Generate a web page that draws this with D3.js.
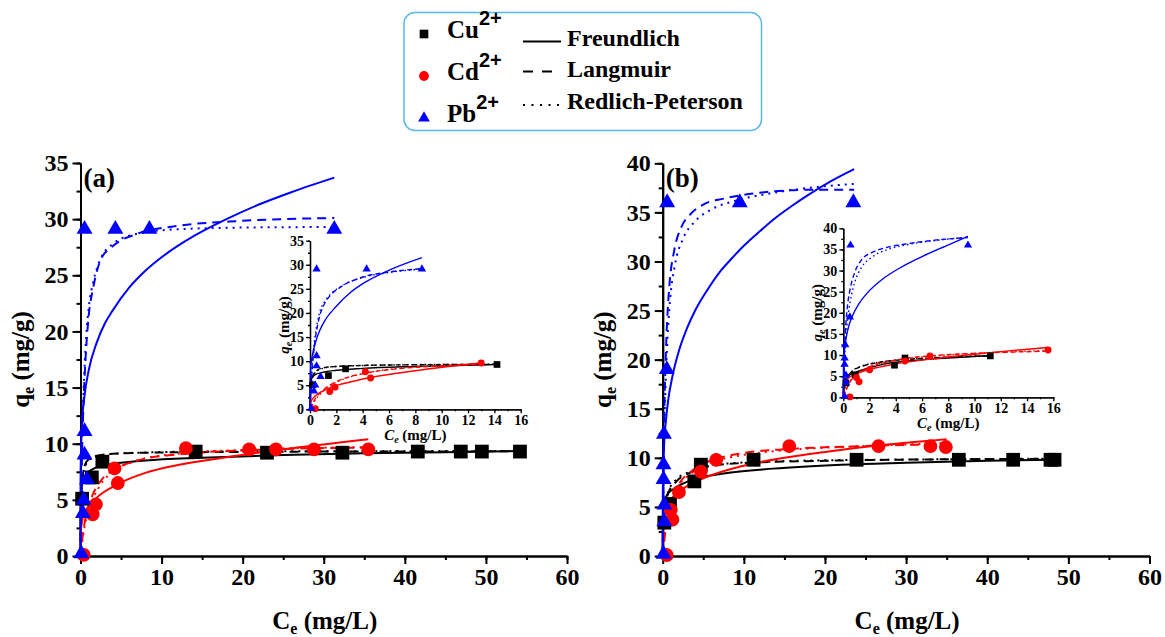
<!DOCTYPE html>
<html lang="en">
<head>
<meta charset="UTF-8"/>
<title>Adsorption isotherms of Cu, Cd and Pb</title>
<script src="https://d3js.org/d3.v7.min.js"></script>
<style>
  body { margin: 0; background: #fff; }
  svg { display: block; }
  svg text { font-family: "Liberation Serif", "Times New Roman", serif; font-weight: bold; }
</style>
</head>
<body>
<svg id="chart"></svg>
<script>
// measured points [Ce, qe], panel (a)
const cuA = [[0.2,5.1],[1.4,7.0],[2.7,8.4],[14.2,9.3],[23.0,9.2],[32.3,9.2],[41.6,9.3],[46.9,9.3],[49.5,9.3],[54.2,9.3]];
const cdA = [[0.4,0.1],[1.5,3.7],[1.9,4.6],[4.2,7.8],[4.6,6.5],[13.0,9.6],[20.8,9.5],[24.1,9.5],[28.8,9.5],[35.5,9.5]];
const pbA = [[0.1,0.2],[0.3,3.8],[0.4,5.0],[0.8,6.8],[0.5,9.0],[0.5,11.1],[0.5,29.1],[4.3,29.1],[8.5,29.1],[31.3,29.1]];

// measured points, panel (b)
const cuB = [[0.2,3.4],[0.9,5.3],[3.9,7.6],[4.7,9.3],[11.2,9.8],[23.9,9.8],[36.5,9.8],[43.2,9.8],[47.8,9.8],[48.3,9.8]];
const cdB = [[0.5,0.1],[1.0,4.7],[1.2,3.7],[2.0,6.5],[4.7,8.6],[6.6,9.8],[15.6,11.2],[26.6,11.2],[33.0,11.2],[34.9,11.1]];
const pbB = [[0.1,0.2],[0.2,3.5],[0.2,5.2],[0.1,7.8],[0.1,9.3],[0.15,12.4],[0.5,19.0],[0.55,36.0],[9.5,36.0],[23.5,36.0]];

// fitted curves, panel (a) main
const cuA_F  = [[0,0],[0.02,4.5],[0.1,6.0],[0.3,6.8],[0.6,7.2],[1,7.5],[2,7.9],[4,8.2],[8,8.5],[15,8.75],[25,9.0],[35,9.15],[45,9.25],[54.2,9.35]];
const cuA_L  = [[0,0],[0.05,3.5],[0.15,6.0],[0.3,7.3],[0.6,8.2],[1,8.6],[2,8.9],[4,9.1],[8,9.2],[15,9.25],[30,9.3],[54.2,9.32]];
const cuA_RP = [[0,0],[0.05,3.2],[0.15,5.8],[0.3,7.1],[0.6,8.0],[1,8.5],[2,8.9],[4,9.1],[8,9.22],[15,9.3],[30,9.33],[54.2,9.36]];
const cdA_F  = [[0,0],[0.005,1.25],[0.05,2.2],[0.2,3.1],[0.5,3.8],[1,4.45],[2,5.2],[4.6,6.4],[8,7.4],[12,8.1],[18,8.8],[25,9.5],[35.5,10.4]];
const cdA_L  = [[0,0],[0.2,1.4],[0.5,2.9],[1,4.4],[1.5,5.45],[2.5,6.7],[4.2,7.7],[7,8.5],[12,9.05],[20,9.4],[35.5,9.66]];
const cdA_RP = [[0,0],[0.2,1.2],[0.5,2.6],[1,4.0],[1.5,5.0],[2.5,6.4],[4.2,7.6],[7,8.5],[12,9.1],[20,9.45],[35.5,9.7]];
const pbA_F  = [[0,0],[0.003,5.2],[0.01,6.8],[0.05,8.9],[0.2,11.9],[0.5,14.3],[1,16.5],[2,19.0],[3,20.7],[4,21.9],[6,23.9],[8,25.4],[10,26.6],[14,28.5],[18,30.0],[22,31.3],[26,32.4],[31.3,33.7]];
const pbA_L  = [[0,0],[0.05,3.1],[0.1,5.7],[0.2,9.4],[0.4,14.1],[0.7,18.5],[1,21.3],[1.6,24],[2.5,26.4],[4,27.6],[7,28.7],[12,29.4],[20,29.85],[31.3,30.1]];
const pbA_RP = [[0,0],[0.05,3.5],[0.1,6.3],[0.2,10.2],[0.4,15],[0.7,19.5],[1,22],[1.6,24.5],[2.5,26.5],[4,27.8],[7,28.7],[12,29.1],[20,29.25],[31.3,29.3]];

// panel (a) inset fits (low-concentration range)
const cuAi_F  = [[0,0],[0.01,4.2],[0.05,5.6],[0.15,6.5],[0.4,7.2],[1,7.7],[2,8.1],[4,8.5],[8,8.9],[14.2,9.3]];
const cuAi_L  = [[0,0],[0.05,3.8],[0.15,6.3],[0.3,7.4],[0.6,8.2],[1,8.6],[2,8.9],[4,9.1],[8,9.25],[14.2,9.32]];
const cuAi_RP = [[0,0],[0.05,3.5],[0.15,6.1],[0.3,7.2],[0.6,8.1],[1,8.5],[2,8.9],[4,9.1],[8,9.28],[14.2,9.35]];
const cdAi_F  = [[0,0],[0.02,0.9],[0.1,1.7],[0.3,2.5],[0.6,3.2],[1,3.8],[1.6,4.6],[2.5,5.3],[4.6,6.6],[8,8.0],[12.9,9.6]];
const cdAi_L  = [[0,0],[0.2,1.2],[0.5,2.6],[1,4.0],[1.5,5.0],[2.5,6.3],[4.2,7.5],[7,8.5],[10,9.0],[12.9,9.3]];
const cdAi_RP = [[0,0],[0.2,1.0],[0.5,2.3],[1,3.7],[1.5,4.8],[2.5,6.2],[4.2,7.5],[7,8.6],[10,9.1],[12.9,9.4]];
const pbAi_F  = [[0,0],[0.01,5.3],[0.05,8.5],[0.15,10.8],[0.3,12.7],[0.6,15.4],[1,17.8],[2,21.4],[3,24.1],[4.2,26.4],[6.1,29],[8.5,31.5]];
const pbAi_L  = [[0,0],[0.05,3],[0.1,5.5],[0.2,9.5],[0.4,14.5],[0.7,19],[1.1,21.9],[1.6,23.8],[2.4,25.5],[4.2,27.6],[6,28.5],[8.5,29.2]];
const pbAi_RP = [[0,0],[0.05,3.5],[0.1,6.3],[0.2,10.4],[0.4,15.5],[0.7,19.8],[1.1,22.3],[1.6,24],[2.4,25.6],[4.2,27.5],[6,28.4],[8.5,29.1]];

// panel (b) main fits
const cuB_F  = [[0,0],[0.05,3.5],[0.2,5.3],[0.5,6.2],[1.3,6.8],[3.4,7.7],[7.5,8.4],[13.6,8.9],[22,9.3],[30,9.5],[40,9.7],[48.3,9.8]];
const cuB_L  = [[0,0],[0.1,2.0],[0.3,4.5],[0.7,6.4],[1.7,7.6],[3.4,8.5],[5.4,9.1],[9.5,9.45],[20,9.7],[35,9.85],[48.3,9.9]];
const cuB_RP = [[0,0],[0.1,2.2],[0.3,4.8],[0.7,6.6],[1.7,7.8],[3.4,8.6],[5.4,9.15],[9.5,9.5],[20,9.75],[35,9.85],[48.3,9.92]];
const cdB_F  = [[0,0],[0.01,2.2],[0.05,3.0],[0.3,4.5],[1,5.7],[2.5,6.85],[5,7.9],[10,9.2],[15,10.0],[20,10.6],[27,11.3],[35,11.9]];
const cdB_L  = [[0,0],[0.2,1.6],[0.5,3.6],[1,5.2],[2,7.3],[3.5,8.6],[5,9.4],[6.6,9.9],[10,10.5],[15.6,10.9],[25,11.2],[35,11.4]];
const cdB_RP = [[0,0],[0.2,1.8],[0.5,3.8],[1,5.4],[2,7.2],[3.5,8.4],[5,9.2],[6.6,9.7],[10,10.3],[15.6,10.8],[25,11.2],[35,11.5]];
const pbB_F  = [[0,0],[0.003,3.9],[0.01,5.5],[0.05,8.2],[0.15,10.9],[0.4,13.8],[0.7,16.0],[1.2,18.3],[2,20.9],[3,23.2],[4,25.0],[5.5,27.1],[7,28.9],[8.5,30.3],[10,31.6],[12,33.1],[14,34.5],[16,35.7],[18,36.8],[20.8,38.2],[23.6,39.4]];
const pbB_L  = [[0,0],[0.02,2.3],[0.05,5.3],[0.1,9.2],[0.2,14.5],[0.35,19.6],[0.55,24.0],[0.82,27.5],[1.44,31.2],[2.3,33.5],[3.4,34.8],[5,35.8],[7.5,36.4],[12,37.0],[18,37.3],[23.6,37.3]];
const pbB_RP = [[0,0],[0.05,4.5],[0.1,7.8],[0.2,12.5],[0.35,17.2],[0.55,21.5],[0.85,25.5],[1.5,29.6],[2.5,32.3],[4,34.1],[6,35.3],[9,36.2],[13,36.9],[18,37.5],[23.6,37.9]];

// panel (b) inset fits
const cuBi_F  = [[0,0],[0.02,2.5],[0.1,3.8],[0.3,4.8],[0.6,5.5],[1,6.0],[2,7.0],[3,7.8],[5,8.6],[8,9.3],[11.2,9.9]];
const cuBi_L  = [[0,0],[0.1,2.2],[0.3,4.5],[0.7,6.2],[1.5,7.4],[3,8.4],[5,9.0],[8,9.5],[11.2,9.8]];
const cuBi_RP = [[0,0],[0.1,2.4],[0.3,4.7],[0.7,6.3],[1.5,7.5],[3,8.4],[5,9.0],[8,9.5],[11.2,9.85]];
const cdBi_F  = [[0,0],[0.01,2.0],[0.05,2.8],[0.3,4.3],[1,5.6],[2,6.6],[4,7.9],[6.5,9.0],[10,10.2],[13,11.1],[15.6,11.8]];
const cdBi_L  = [[0,0],[0.2,1.6],[0.5,3.6],[1,5.2],[2,7.2],[3.5,8.5],[5,9.3],[6.6,9.8],[10,10.4],[15.6,10.9]];
const cdBi_RP = [[0,0],[0.2,1.8],[0.5,3.8],[1,5.4],[2,7.2],[3.5,8.4],[5,9.2],[6.6,9.7],[10,10.4],[15.6,11.1]];
const pbBi_F  = [[0,0],[0.01,6.4],[0.05,9.8],[0.15,12.7],[0.33,15.8],[0.7,19.3],[1.2,22.2],[1.8,24.6],[3,28],[4.3,30.6],[6,33.3],[7.8,35.8],[9.5,38.1]];
const pbBi_L  = [[0,0],[0.02,3],[0.05,6.8],[0.1,11.5],[0.2,17.5],[0.35,22.5],[0.5,25.3],[0.9,29.8],[1.4,32.6],[2.2,34.3],[3.5,35.6],[5,36.4],[7,37.2],[9.5,37.8]];
const pbBi_RP = [[0,0],[0.05,5],[0.1,8.8],[0.2,14],[0.35,19],[0.55,23],[0.9,27.5],[1.4,30.8],[2.2,33.2],[3.5,35.1],[5,36.2],[7,37.1],[9.5,37.9]];

const ions = ['Cu', 'Cd', 'Pb'];
const ionColors = ['#000000', '#ff0000', '#0000ff'];
const models = ['Freundlich', 'Langmuir', 'Redlich-Peterson'];

const serif = '"Liberation Serif", "Times New Roman", serif';

const svg = d3.select('#chart')
  .attr('width', 1165).attr('height', 637)
  .attr('font-family', serif).attr('font-weight', 'bold');

const sym = {
  Cu: d3.symbolSquare,
  Cd: d3.symbolCircle,
  Pb: d3.symbolTriangle
};

function drawAxes(g, x, y, o) {
  const xAxisMinor = d3.axisBottom(x).tickValues(d3.range(0, o.xMax + 1e-6, o.xMinor))
    .tickSize(o.minorLen).tickFormat('').tickSizeOuter(0);
  const yAxisMinor = d3.axisLeft(y).tickValues(d3.range(0, o.yMax + 1e-6, o.yMinor))
    .tickSize(o.minorLen).tickFormat('').tickSizeOuter(0);
  const xAxis = d3.axisBottom(x).tickValues(d3.range(0, o.xMax + 1e-6, o.xStep))
    .tickSize(o.majorLen).tickPadding(o.pad).tickSizeOuter(0);
  const yAxis = d3.axisLeft(y).tickValues(d3.range(0, o.yMax + 1e-6, o.yStep))
    .tickSize(o.majorLen).tickPadding(o.pad).tickSizeOuter(0);

  const style = sel => {
    sel.attr('font-family', serif).attr('font-weight', 'bold').attr('font-size', o.font);
    sel.selectAll('line').attr('stroke', '#000').attr('stroke-width', o.sw);
    sel.selectAll('.domain').attr('stroke', '#000').attr('stroke-width', o.sw);
    sel.selectAll('text').attr('fill', '#000');
  };

  g.append('g').attr('transform', `translate(0,${y(0)})`).call(xAxisMinor).call(style);
  g.append('g').attr('transform', `translate(${x(0)},0)`).call(yAxisMinor).call(style);
  g.append('g').attr('transform', `translate(0,${y(0)})`).call(xAxis).call(style);
  g.append('g').attr('transform', `translate(${x(0)},0)`).call(yAxis).call(style);
}

function drawSeries(g, x, y, pts, fits, o) {
  const line = d3.line().x(d => x(d[0])).y(d => y(d[1])).curve(d3.curveMonotoneX);
  const dashes = [null, o.dash, o.dot];
  fits.forEach((set, i) => {
    set.forEach((curve, m) => {
      g.append('path')
        .datum(curve)
        .attr('d', line)
        .attr('fill', 'none')
        .attr('stroke', ionColors[i])
        .attr('stroke-width', o.lw)
        .attr('stroke-dasharray', dashes[m]);
    });
  });
  pts.forEach((set, i) => {
    const name = ions[i];
    g.selectAll(null)
      .data(set.filter(d => d[0] <= o.xMax))
      .enter()
      .append('path')
      .attr('transform', d => `translate(${x(d[0])},${y(d[1])})`)
      .attr('d', d3.symbol().type(sym[name]).size(o.size[name]))
      .attr('fill', ionColors[i]);
  });
}

const mainOpts = {
  xMax: 60, xStep: 10, xMinor: 5, yStep: 5, yMinor: 2.5,
  majorLen: 8, minorLen: 4, pad: 4, font: 24, sw: 2,
  lw: 2, dash: '9,6', dot: '2,5',
  size: { Cu: 190, Cd: 150, Pb: 110 }
};
const insetOpts = {
  xMax: 16, xStep: 2, xMinor: 1, yStep: 5, yMinor: 2.5,
  majorLen: 4, minorLen: 2, pad: 2, font: 14, sw: 1.3,
  lw: 1.4, dash: '5,3', dot: '1.5,3',
  size: { Cu: 45, Cd: 38, Pb: 30 }
};

function panel(p) {
  const g = svg.append('g');
  const x = d3.scaleLinear().domain([0, 60]).range(p.xr);
  const y = d3.scaleLinear().domain([0, p.yMax]).range(p.yr);
  drawAxes(g, x, y, Object.assign({}, mainOpts, { yMax: p.yMax }));
  drawSeries(g, x, y, p.pts, p.fits, mainOpts);

  // axis titles
  const yt = g.append('text')
    .attr('transform', `translate(${p.xr[0] - 52},${(p.yr[0] + p.yr[1]) / 2}) rotate(-90)`)
    .attr('text-anchor', 'middle').attr('font-size', 25);
  yt.append('tspan').text('q');
  yt.append('tspan').text('e').attr('font-size', 16).attr('dy', 5);
  yt.append('tspan').text(' (mg/g)').attr('dy', -5);

  const xt = g.append('text')
    .attr('x', (p.xr[0] + p.xr[1]) / 2 + 1).attr('y', 629)
    .attr('text-anchor', 'middle').attr('font-size', 25);
  xt.append('tspan').text('C');
  xt.append('tspan').text('e').attr('font-size', 16).attr('dy', 5);
  xt.append('tspan').text(' (mg/L)').attr('dy', -5);

  g.append('text').attr('x', p.xr[0] + 3).attr('y', 187)
    .attr('font-size', 27).text(p.tag);

  // inset
  const gi = svg.append('g');
  const xi = d3.scaleLinear().domain([0, 16]).range(p.ixr);
  const yi = d3.scaleLinear().domain([0, p.yMax]).range(p.iyr);
  drawAxes(gi, xi, yi, Object.assign({}, insetOpts, { yMax: p.yMax }));
  drawSeries(gi, xi, yi, p.pts, p.ifits, insetOpts);

  const iyt = gi.append('text')
    .attr('transform', `translate(${p.ixr[0] - 21},${(p.iyr[0] + p.iyr[1]) / 2}) rotate(-90)`)
    .attr('text-anchor', 'middle').attr('font-size', 15);
  iyt.append('tspan').text('q').attr('font-style', 'italic');
  iyt.append('tspan').text('e').attr('font-style', 'italic').attr('font-size', 10).attr('dy', 3);
  iyt.append('tspan').text(' (mg/g)').attr('dy', -3);

  const ixt = gi.append('text')
    .attr('x', (p.ixr[0] + p.ixr[1]) / 2).attr('y', p.iyr[0] + 31)
    .attr('text-anchor', 'middle').attr('font-size', 15);
  ixt.append('tspan').text('C').attr('font-style', 'italic');
  ixt.append('tspan').text('e').attr('font-style', 'italic').attr('font-size', 10).attr('dy', 3);
  ixt.append('tspan').text(' (mg/L)').attr('dy', -3);
}

panel({
  tag: '(a)', yMax: 35,
  xr: [80.5, 567], yr: [556, 163],
  ixr: [310, 520.7], iyr: [409.3, 240.7],
  pts: [cuA, cdA, pbA],
  fits: [[cuA_F, cuA_L, cuA_RP], [cdA_F, cdA_L, cdA_RP], [pbA_F, pbA_L, pbA_RP]],
  ifits: [[cuAi_F, cuAi_L, cuAi_RP], [cdAi_F, cdAi_L, cdAi_RP], [pbAi_F, pbAi_L, pbAi_RP]]
});

panel({
  tag: '(b)', yMax: 40,
  xr: [662.7, 1149.5], yr: [556, 163.3],
  ixr: [843.3, 1053.3], iyr: [397.3, 228.3],
  pts: [cuB, cdB, pbB],
  fits: [[cuB_F, cuB_L, cuB_RP], [cdB_F, cdB_L, cdB_RP], [pbB_F, pbB_L, pbB_RP]],
  ifits: [[cuBi_F, cuBi_L, cuBi_RP], [cdBi_F, cdBi_L, cdBi_RP], [pbBi_F, pbBi_L, pbBi_RP]]
});

// legend
const leg = svg.append('g');
leg.append('rect')
  .attr('x', 404).attr('y', 12.5).attr('width', 357.5).attr('height', 118)
  .attr('rx', 11).attr('fill', 'none').attr('stroke', '#5ab7ea').attr('stroke-width', 1.5);

const legRowY = [38, 80, 122];
ions.forEach((name, i) => {
  leg.append('path')
    .attr('transform', `translate(424,${legRowY[i] - 4})`)
    .attr('d', d3.symbol().type(sym[name]).size([75, 75, 60][i]))
    .attr('fill', ionColors[i]);
  const t = leg.append('text').attr('x', 447).attr('y', legRowY[i]).attr('font-size', 25);
  t.append('tspan').text(name);
  t.append('tspan').text('2+')
    .attr('font-family', '"Liberation Sans", Arial, sans-serif')
    .attr('font-size', 20).attr('dy', -13);
});

const legLineY = [41.5, 71.5, 105];
const legTextY = [46, 77, 109];
const legDash = [null, '10,9', '2,6.5'];
models.forEach((name, m) => {
  leg.append('line')
    .attr('x1', 523).attr('x2', 561)
    .attr('y1', legLineY[m]).attr('y2', legLineY[m])
    .attr('stroke', '#000').attr('stroke-width', 2)
    .attr('stroke-dasharray', legDash[m]);
  leg.append('text').attr('x', 567).attr('y', legTextY[m])
    .attr('font-size', 24).text(name);
});
</script>
</body>
</html>
